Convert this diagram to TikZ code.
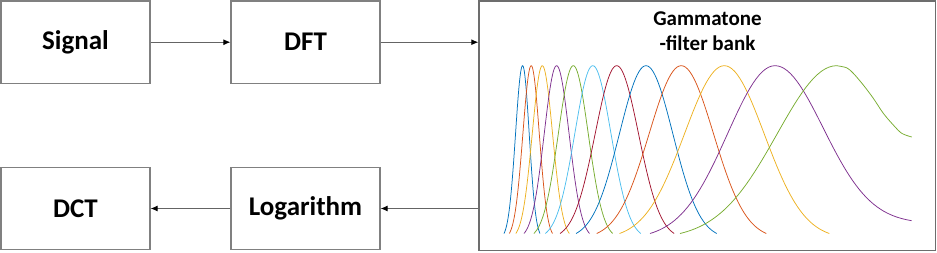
\documentclass[tikz,border=0pt]{standalone}
\usepackage{fontspec}
\setmainfont{Carlito}
\usetikzlibrary{arrows.meta}
\definecolor{c1}{RGB}{0,114,189}
\definecolor{c2}{RGB}{217,83,25}
\definecolor{c3}{RGB}{237,177,32}
\definecolor{c4}{RGB}{126,47,142}
\definecolor{c5}{RGB}{119,172,48}
\definecolor{c6}{RGB}{77,190,238}
\definecolor{c7}{RGB}{162,20,47}
\definecolor{boxgray}{RGB}{128,128,128}
\definecolor{arrgray}{RGB}{100,100,100}
\tikzset{
  blk/.style={draw=boxgray, line width=1.3pt, minimum width=149pt, minimum height=82.5pt, inner sep=0pt, font=\fontsize{27}{30}\selectfont\bfseries},
  bigblk/.style={draw=boxgray!85!black, line width=1.3pt, minimum width=456.7pt, minimum height=249.5pt, inner sep=0pt},
  flow/.style={draw=arrgray, line width=0.9pt, -{Latex[length=7pt,width=6pt,color=black]}},
  curve/.style={line width=0.75pt}
}
\begin{document}
\begin{tikzpicture}[x=1pt,y=-1pt]
\useasboundingbox (0,0) rectangle (937,252);
\node[blk] (sig) at (75.5,42.2) {Signal};
\node[blk] (dft) at (305.5,42.2) {DFT};
\node[blk] (dct) at (75.5,208.5) {DCT};
\node[blk] (log) at (305.5,208.5) {Logarithm};
\node[bigblk] (gt) at (707.3,125.8) {};
\node[anchor=base, align=center, font=\fontsize{21}{24.7}\selectfont\bfseries] (title) at (707.5,50) {Gammatone\\-filter bank};
\draw[flow] (sig.east) -- (dft.west);
\draw[flow] (dft.east) -- (dft.east -| gt.west);
\draw[flow] (log.east -| gt.west) -- (log.east);
\draw[flow] (log.west) -- (dct.east);
% filter curves
\foreach \s/\p/\e/\c in {504/522.6/540/c1, 509.3/531.2/552.5/c2, 515.8/542.3/569.3/c3, 524/556.6/589.5/c4, 533.8/573.3/612.7/c5, 545.3/592.8/640.8/c6, 560/616.7/674.2/c7, 576/646/716.7/c1, 596.7/681.2/766.3/c2, 619.5/724.3/829.3/c3} {
  \draw[\c, curve] plot[domain=-1:1, samples=81, variable=\t]
    ({\p + \t*((\t<0)*(\p-\s) + (\t>=0)*(\e-\p))}, {233.5 - 167.8*(exp(-\t*\t/0.2888)-0.0313)/0.9687});
}
\draw[c4, curve] plot[domain=-1:0, samples=41, variable=\t]
    ({775 + \t*125}, {233.5 - 167.8*(exp(-\t*\t/0.2888)-0.0313)/0.9687})
  -- plot[domain=0:1.0936, samples=45, variable=\t]
    ({775 + \t*125}, {233.5 - 167.8*(0.06+0.94*exp(-\t*\t/0.296))});
\draw[c5, curve] plot[domain=-1:0, samples=41, variable=\t]
    ({836.7 + \t*156.7}, {233.5 - 167.8*(exp(-\t*\t/0.2888)-0.0313)/0.9687})
  plot[smooth] coordinates {(836.7,65.7) (846.7,67.8) (853.3,73.3) (863.3,85) (873.3,98.3) (883.3,113.3) (893.3,125) (901.7,133.3) (911.7,137)};
\end{tikzpicture}
\end{document}
